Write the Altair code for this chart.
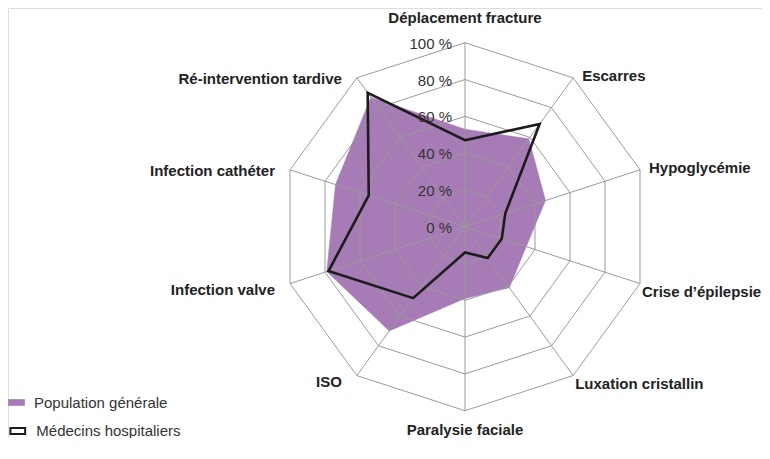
import altair as alt
import pandas as pd

categories = ["Déplacement fracture", "Escarres", "Hypoglycémie", "Crise d’épilepsie",
              "Luxation cristallin", "Paralysie faciale", "ISO", "Infection valve",
              "Infection cathéter", "Ré-intervention tardive"]
population = [53, 59, 46, 35, 41, 39, 70, 79, 74, 87]
medecins = [47, 69, 23, 21, 21, 14, 48, 78, 55, 90]
series_names = ["Population générale", "Médecins hospitaliers"]
ring_levels = [20, 40, 60, 80, 100]
tick_levels = [0, 20, 40, 60, 80, 100]
tick_labels = ["0 %", "20 %", "40 %", "60 %", "80 %", "100 %"]

PURPLE = "#a77bb6"
FONT = "Liberation Sans"
N = len(categories)

W, H = 754, 430
CX, CY = 457, 218.7
PX = 1.84  # pixels per percent
xdom = [-CX / PX, (W - CX) / PX]
ydom = [-(H - CY) / PX, CY / PX]

xs = alt.Scale(domain=xdom, nice=False, zero=False)
ys = alt.Scale(domain=ydom, nice=False, zero=False)

pop_df = pd.DataFrame({"idx": range(N), "cat": categories, "value": population,
                       "series": series_names[0]})
med_df = pd.DataFrame({"idx": range(N), "cat": categories, "value": medecins,
                       "series": series_names[1]})
ring_df = pd.DataFrame([{"idx": i, "level": lv} for lv in ring_levels for i in range(N)])
spoke_df = pd.DataFrame({"idx": range(N), "cat": categories})
tick_df = pd.DataFrame({"level": tick_levels, "label": tick_labels})

def polar(ch, valfield):
    return ch.transform_calculate(
        ang=f"datum.idx * 2 * PI / {N}"
    ).transform_calculate(
        px=f"datum.{valfield} * sin(datum.ang)",
        py=f"datum.{valfield} * cos(datum.ang)",
    )

X = alt.X("px:Q", scale=xs, axis=None)
Y = alt.Y("py:Q", scale=ys, axis=None)

sym = "M-1,-0.4L1,-0.4L1,0.4L-1,0.4Z"

pop_layer = polar(alt.Chart(pop_df), "value").mark_line(
    interpolate="linear-closed", stroke=PURPLE, strokeWidth=0.5
).encode(
    x=X, y=Y, order=alt.Order("idx:Q"),
    fill=alt.Fill("series:N", scale=alt.Scale(domain=[series_names[0]], range=[PURPLE]),
                  legend=alt.Legend(title=None, orient="none", legendX=0, legendY=386,
                                    symbolType=sym, symbolSize=279, symbolStrokeWidth=0,
                                    labelFont=FONT, labelFontSize=15, labelColor="#333",
                                    labelOffset=9, padding=0)),
)

rings = polar(alt.Chart(ring_df), "level").mark_line(
    interpolate="linear-closed", stroke="#9a9a9a", strokeWidth=1
).encode(x=X, y=Y, order=alt.Order("idx:Q"), detail="level:N")

spokes = alt.Chart(spoke_df).transform_calculate(
    ang=f"datum.idx * 2 * PI / {N}"
).transform_calculate(
    x0="0", y0="0", px="100 * sin(datum.ang)", py="100 * cos(datum.ang)"
).mark_rule(stroke="#9a9a9a", strokeWidth=1).encode(
    x=alt.X("x0:Q", scale=xs, axis=None), y=alt.Y("y0:Q", scale=ys, axis=None),
    x2="px:Q", y2="py:Q")

med_layer = polar(alt.Chart(med_df), "value").mark_line(
    interpolate="linear-closed", strokeWidth=2.6
).encode(
    x=X, y=Y, order=alt.Order("idx:Q"),
    stroke=alt.Stroke("series:N", scale=alt.Scale(domain=[series_names[1]], range=["#1c1c1c"]),
                      legend=alt.Legend(title=None, orient="none", legendX=1.3, legendY=414.5,
                                        symbolType=sym, symbolSize=216, symbolStrokeWidth=2,
                                        symbolFillColor="white",
                                        labelFont=FONT, labelFontSize=15, labelColor="#333",
                                        labelOffset=10, padding=0)),
)

ticks = alt.Chart(tick_df).transform_calculate(px="0", py="datum.level").mark_text(
    align="right", baseline="middle", dx=-13, dy=1, font=FONT, fontSize=15, color="#333"
).encode(x=X, y=Y, text="label:N")

lab_base = alt.Chart(spoke_df).transform_calculate(
    ang=f"datum.idx * 2 * PI / {N}"
).transform_calculate(
    s="sin(datum.ang)", c="cos(datum.ang)",
    px="100 * sin(datum.ang)", py="100 * cos(datum.ang)"
)

def labels(cond, align, dx, dy):
    return lab_base.transform_filter(cond).mark_text(
        align=align, baseline="middle", dx=dx, dy=dy, font=FONT, fontSize=15,
        fontWeight="bold", color="#222"
    ).encode(x=X, y=Y, text="cat:N")

lab_layers = [
    labels("datum.c > 0.99", "center", 0, -25),
    labels("datum.c < -0.99", "center", 0, 19),
    labels("datum.s > 0.1 && datum.c > 0", "left", 9, -2),
    labels("datum.s > 0.1 && datum.c < 0", "left", 2, 8),
    labels("datum.s < -0.1 && datum.c < 0", "right", -15, 6),
    labels("datum.s < -0.1 && datum.c > 0", "right", -15, 1.5),
]

chart = alt.layer(pop_layer, rings, spokes, med_layer, ticks, *lab_layers).properties(
    width=W, height=H, autosize=alt.AutoSizeParams(type="none"), padding=0
).configure_view(stroke=None).configure(background="white")

chart.save("out.html", embed_options={"renderer": "svg", "actions": False})
